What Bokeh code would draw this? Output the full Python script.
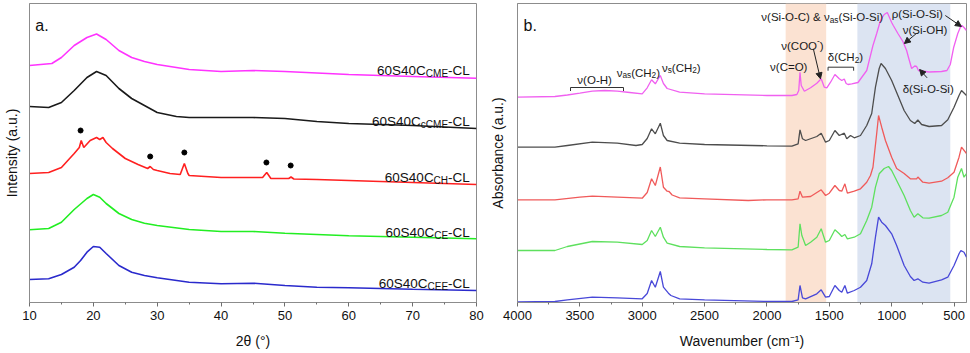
from bokeh.plotting import figure
from bokeh.layouts import row
from bokeh.models import Range1d, FixedTicker, Arrow, NormalHead, BoxAnnotation
from bokeh.core.properties import value
from bokeh.embed import file_html
from bokeh.resources import INLINE

FONT = "Liberation Sans"

# ---------------- Panel a: XRD ----------------
xrd_cme_x = [10, 13.5, 15, 17, 19, 20.5, 22, 24, 26, 28, 30, 35, 40, 45, 50, 60, 70, 80]
xrd_cme_y = [237, 239, 245, 257, 265, 268.5, 263, 252, 245, 241, 238, 233, 231, 232, 231, 228, 226, 224.3]

xrd_ccme_x = [10, 13, 15, 17, 19, 20.5, 22, 24, 26, 28, 30, 33, 35, 40, 45, 50, 55, 60, 70, 80]
xrd_ccme_y = [196, 195, 200, 212, 225, 231, 227, 214, 204, 197, 190, 186, 185, 185, 185, 184, 181, 179, 177, 174]

xrd_ch_x = [10, 13, 15, 17, 17.8, 18.1, 18.5, 19.5, 20.5, 21, 21.5, 22, 23, 25, 27, 28.5, 28.9, 29.4,
            30, 32, 33.6, 34.25, 34.8, 35, 40, 45, 46.5, 47.15, 47.8, 50, 50.6, 50.95, 51.4, 55, 60, 70, 80]
xrd_ch_y = [129, 130, 135, 149, 155, 162, 155, 162, 165, 163, 165, 160, 154, 144, 138, 134, 136, 133,
            132, 129, 128, 139, 129, 127, 125, 125, 125, 130, 124, 124, 124, 125.5, 123.5, 123, 122, 120, 118]

xrd_ce_x = [10, 13, 15, 17, 19, 20, 21, 22, 24, 26, 28, 30, 35, 40, 45, 50, 55, 60, 70, 80]
xrd_ce_y = [72.7, 74, 80.3, 93, 104, 108, 105.3, 99, 89, 83, 79.3, 77, 73, 71, 71, 69.3, 68, 66.7, 65.3, 63.7]

xrd_cee_x = [10, 13, 15, 17, 18, 19, 20, 21, 22, 24, 26, 28, 30, 35, 40, 45, 50, 55, 60, 70, 80]
xrd_cee_y = [23, 23.7, 28, 35.3, 42, 50.3, 56, 55.3, 49, 37, 30.3, 27, 24.7, 20.3, 18.7, 19.3, 17, 15.3, 14.7, 13.3, 12]

dot_x = [18, 28.9, 34.25, 47.1, 50.9]
dot_y = [172, 146, 150, 140, 137]

xrd_names = ["CME", "cCME", "CH", "CE", "CEE"]
xrd_label_y = [232, 181.3, 125, 70.3, 19]
xrd_colors = ["#ff33ff", "#1a1a1a", "#ff2020", "#22ee22", "#2a2acc"]
xrd_ticks = [10, 20, 30, 40, 50, 60, 70, 80]

# ---------------- Panel b: FTIR ----------------
ir_cme_w = [4000, 3700, 3600, 3500, 3400, 3300, 3200, 3100, 3000, 2960, 2925, 2895, 2855, 2830, 2800, 2700, 2500,
            2000, 1800, 1760, 1745, 1735, 1725, 1700, 1650, 1600, 1565, 1540, 1520, 1490, 1455, 1420, 1400, 1380,
            1365, 1350, 1320, 1270, 1200, 1150, 1120, 1090, 1060, 1035, 1000, 987, 950, 910, 880, 865, 840, 815,
            800, 785, 700, 600, 557, 530, 503, 470, 450, 437, 420, 400]
ir_cme_a = [205.3, 206, 207.5, 209.3, 211.3, 212, 211.3, 210, 208.7, 214.7, 222.7, 218.7, 227, 219, 214, 210.3, 208.7,
            207, 207, 208, 212, 230.3, 217, 211.3, 214.7, 219.3, 223.7, 215.3, 214.7, 220.3, 228, 223.7, 222, 223.5,
            219, 218, 218.7, 220, 232, 257, 269, 282, 288, 290, 280, 277, 269, 261, 252, 245, 234, 236.5,
            236, 232, 230.5, 231, 232, 238, 255, 269, 275, 277, 275, 272]

ir_ccme_w = [4000, 3700, 3600, 3400, 3200, 3050, 3000, 2960, 2925, 2895, 2855, 2830, 2800, 2700, 2500, 2000, 1800,
             1750, 1735, 1715, 1690, 1600, 1565, 1530, 1500, 1455, 1420, 1380, 1360, 1330, 1300, 1250, 1200, 1160,
             1130, 1100, 1085, 1050, 1000, 960, 900, 850, 815, 790, 760, 700, 600, 550, 500, 460, 440, 400]
ir_ccme_a = [155.3, 155.3, 157, 160.3, 159.3, 157, 158, 164, 173.7, 168.7, 179.3, 167, 162, 159.3, 158, 156.7, 156.3,
             158.7, 172.7, 163.7, 162, 166, 169.3, 160.3, 162, 172, 167, 169.3, 163.7, 167, 164.7, 167, 177, 189,
             215.3, 234, 239, 234, 222, 210, 192, 182, 179, 182.5, 178, 176, 177, 182.7, 195.3, 207, 212, 207]

ir_ch_w = [4000, 3700, 3500, 3400, 3200, 3000, 2960, 2925, 2895, 2855, 2830, 2800, 2785, 2760, 2700, 2500, 2150,
           2000, 1800, 1750, 1735, 1715, 1650, 1565, 1530, 1500, 1455, 1420, 1400, 1375, 1355, 1300, 1250, 1200,
           1170, 1150, 1120, 1105, 1080, 1050, 1000, 960, 900, 850, 800, 790, 750, 700, 600, 550, 500, 460, 440, 400]
ir_ch_a = [102.7, 102.7, 105.3, 106.3, 105.3, 104.3, 110, 123.7, 117, 135.5, 115.3, 111.3, 111, 107.5, 104.7, 103.7, 102,
           102.7, 102.7, 103.7, 111.3, 105.3, 106, 112.7, 107, 109.3, 117, 112, 111.3, 118.7, 109.3, 111.3, 113.7, 120.3,
           127, 135.3, 169, 187, 175.3, 162, 145.3, 134, 129, 123.7, 123.7, 125.5, 120.3, 119.3, 121.3, 124.7, 130.3,
           145.3, 155.3, 149]

ir_ce_w = [4000, 3700, 3600, 3400, 3200, 3000, 2960, 2925, 2895, 2855, 2830, 2800, 2700, 2500, 2000, 1800, 1750,
           1735, 1720, 1690, 1650, 1600, 1565, 1530, 1500, 1455, 1420, 1400, 1375, 1355, 1300, 1250, 1200, 1160,
           1130, 1100, 1060, 1025, 1000, 960, 900, 850, 820, 790, 750, 700, 600, 550, 500, 470, 440, 420, 400]
ir_ce_a = [52, 52, 56, 61, 60.3, 58, 62, 72, 66, 75.3, 65.3, 59.3, 56, 54.7, 53, 52.7, 55.3,
           78.7, 67, 57, 60.3, 65.3, 73.7, 60.3, 62, 72.7, 68.7, 66, 68, 63.7, 65.3, 68.7, 82, 95.3,
           115.3, 128.7, 134, 136, 132, 122, 107, 92, 85.3, 88.7, 84.7, 84.3, 87, 90.3, 105.3, 125.3, 134, 125.3, 129]

ir_cee_w = [4000, 3700, 3600, 3400, 3200, 3000, 2960, 2925, 2895, 2855, 2830, 2790, 2770, 2700, 2500, 2000, 1800,
            1750, 1735, 1715, 1690, 1600, 1565, 1530, 1500, 1455, 1420, 1400, 1375, 1355, 1300, 1250, 1200, 1160,
            1130, 1105, 1080, 1050, 1000, 960, 900, 850, 820, 790, 750, 700, 600, 550, 500, 460, 445, 420, 400]
ir_cee_a = [0.5, 1, 2.7, 5.3, 4.7, 3.7, 9, 22, 15.3, 31, 15.3, 9.3, 7, 3.7, 2.7, 1, 1,
            2.7, 17, 4.7, 3.7, 8.7, 12.7, 5.3, 6, 17, 12, 10.3, 17, 9.3, 12, 15.3, 22, 38.7,
            65.3, 85.3, 80.3, 77, 68.7, 57, 37, 26, 22, 23.7, 20.3, 19.3, 22.7, 25.3, 37, 48.7, 52, 50.3, 45.3]

ir_colors = ["#f060f0", "#4d4d4d", "#f05a5a", "#5ee05e", "#4848d8"]
ir_ticks = [4000, 3500, 3000, 2500, 2000, 1500, 1000, 500]
band_carboxyl = (1850, 1525)
band_silica = (1275, 530)
bracket_oh = (3575, 3150)
bracket_ch2 = (1510, 1305)

# ---------------- helpers ----------------
AW = {'0': 556, '1': 556, '2': 556, '3': 556, '4': 556, '5': 556, '6': 556, '7': 556, '8': 556, '9': 556,
      'S': 667, 'C': 722, 'M': 833, 'E': 667, 'H': 722, 'L': 556, 'O': 778, 'i': 222, 'c': 500, 'a': 556,
      's': 500, '-': 333, '(': 333, ')': 333, ' ': 278, '=': 584, '&': 667, 'ν': 500, 'δ': 556, 'ρ': 577,
      '.': 278, 'b': 556}


def tw(s, size):
    return sum(AW.get(ch, 556) for ch in s) / 1000.0 * size


def rich(p, x, y, segs, size, align="left", color="#1a1a1a", ratio=0.72):
    sizes = [size if k == "n" else size * ratio for _, k in segs]
    widths = [tw(t, fs) for (t, _), fs in zip(segs, sizes)]
    total = sum(widths)
    off = 0.0 if align == "left" else (-total if align == "right" else -total / 2.0)
    for (t, k), fs, w in zip(segs, sizes, widths):
        dy = 0.0 if k == "n" else (size * 0.25 if k == "sub" else -size * 0.4)
        p.text(x=[x], y=[y], text=[t], x_offset=off, y_offset=dy, text_font=value(FONT),
               text_font_size=f"{fs:.1f}px", text_align="left", text_baseline="alphabetic",
               text_color=color)
        off += w


def style(p, xlabel, ylabel, ticks, minor, ystand):
    p.grid.visible = False
    p.outline_line_color = "#8c8c8c"
    p.outline_line_width = 1
    for ax in (p.xaxis[0], p.yaxis[0]):
        ax.axis_line_color = "#8c8c8c"
        ax.major_tick_line_color = "#6e6e6e"
        ax.minor_tick_line_color = "#6e6e6e"
        ax.axis_label_text_font = FONT
        ax.axis_label_text_font_size = "14px"
        ax.axis_label_text_font_style = "normal"
        ax.axis_label_text_color = "#111111"
        ax.major_label_text_font = FONT
        ax.major_label_text_font_size = "13px"
        ax.major_label_text_color = "#111111"
    xa = p.xaxis[0]
    xa.ticker = FixedTicker(ticks=ticks, minor_ticks=minor)
    xa.axis_label = xlabel
    xa.major_tick_out = 4
    xa.major_tick_in = 0
    xa.minor_tick_out = 2
    xa.minor_tick_in = 0
    xa.major_label_standoff = 4
    xa.axis_label_standoff = 10
    ya = p.yaxis[0]
    ya.ticker = FixedTicker(ticks=[])
    ya.axis_label = ylabel
    ya.major_tick_out = 0
    ya.major_tick_in = 0
    ya.minor_tick_out = 0
    ya.minor_tick_in = 0
    ya.major_label_text_font_size = "0px"
    ya.major_label_standoff = 0
    ya.axis_label_standoff = ystand


# ---------------- figure a ----------------
p1 = figure(width=485, height=353, x_range=Range1d(10, 80), y_range=Range1d(0, 299),
            output_backend="svg", toolbar_location=None,
            min_border_left=27, min_border_right=9, min_border_top=3, min_border_bottom=51)
style(p1, "2θ (°)", "Intensity (a.u.)", xrd_ticks, [15, 25, 35, 45, 55, 65, 75], 10)

for xs, ys, c in zip([xrd_cme_x, xrd_ccme_x, xrd_ch_x, xrd_ce_x, xrd_cee_x],
                     [xrd_cme_y, xrd_ccme_y, xrd_ch_y, xrd_ce_y, xrd_cee_y], xrd_colors):
    p1.line(xs, ys, line_color=c, line_width=1.6)
p1.scatter(dot_x, dot_y, size=5, color="#000000")

for name, ly in zip(xrd_names, xrd_label_y):
    rich(p1, 78.95, ly, [("60S40C", "n"), (name, "sub"), ("-CL", "n")], 13.5, align="right",
         color="#111111", ratio=0.74)
rich(p1, 10.9, 277, [("a.", "n")], 16, color="#111111")

# ---------------- figure b ----------------
p2 = figure(width=485, height=353, x_range=Range1d(4000, 400), y_range=Range1d(0, 299),
            output_backend="svg", toolbar_location=None,
            min_border_left=32, min_border_right=4, min_border_top=3, min_border_bottom=51)
style(p2, "Wavenumber (cm⁻¹)", "Absorbance (a.u.)", ir_ticks,
      [3750, 3250, 2750, 2250, 1750, 1250, 750], 12)

p2.add_layout(BoxAnnotation(left=band_carboxyl[0], right=band_carboxyl[1], fill_color="#fbe2d2",
                            fill_alpha=1.0, line_alpha=0, level="underlay"))
p2.add_layout(BoxAnnotation(left=band_silica[0], right=band_silica[1], fill_color="#dce4f2",
                            fill_alpha=1.0, line_alpha=0, level="underlay"))

for ws, a_, c in zip([ir_cme_w, ir_ccme_w, ir_ch_w, ir_ce_w, ir_cee_w],
                     [ir_cme_a, ir_ccme_a, ir_ch_a, ir_ce_a, ir_cee_a], ir_colors):
    p2.line(ws, a_, line_color=c, line_width=1.3)

ANN = 11.5
rich(p2, 3952, 277, [("b.", "n")], 16, color="#111111")
rich(p2, 3520, 223, [("ν(O-H)", "n")], ANN)
rich(p2, 3205, 230, [("ν", "n"), ("as", "sub"), ("(CH", "n"), ("2", "sub"), (")", "n")], ANN)
rich(p2, 2842, 235, [("ν", "n"), ("s", "sub"), ("(CH", "n"), ("2", "sub"), (")", "n")], ANN)
rich(p2, 1975, 235.3, [("ν(C=O)", "n")], ANN)
rich(p2, 1885, 257, [("ν(COO", "n"), ("-", "sup"), (")", "n")], ANN)
rich(p2, 1512, 245.3, [("δ(CH", "n"), ("2", "sub"), (")", "n")], ANN)
rich(p2, 2045, 285.3, [("ν(Si-O-C) & ν", "n"), ("as", "sub"), ("(Si-O-Si)", "n")], ANN)
rich(p2, 1000, 288.5, [("ρ(Si-O-Si)", "n")], ANN)
rich(p2, 912, 273, [("ν(Si-OH)", "n")], ANN)
rich(p2, 912, 213.7, [("δ(Si-O-Si)", "n")], ANN)

# brackets
for (b0, b1), by in [(bracket_oh, 215), (bracket_ch2, 235.3)]:
    p2.line([b0, b0, b1, b1], [by - 3.5, by, by, by - 3.5], line_color="#333333", line_width=1)

# arrows
for xs_, ys_, xe, ye in [(1628, 253.7, 1571, 223.7), (570, 287, 441, 276),
                         (802, 269, 898, 259), (716, 224.7, 776, 233)]:
    p2.add_layout(Arrow(end=NormalHead(size=6, fill_color="#222222", line_color="#222222"),
                        x_start=xs_, y_start=ys_, x_end=xe, y_end=ye,
                        line_color="#222222", line_width=1))

layout = row(p1, p2)
open("out.html", "w").write(file_html(layout, INLINE))
